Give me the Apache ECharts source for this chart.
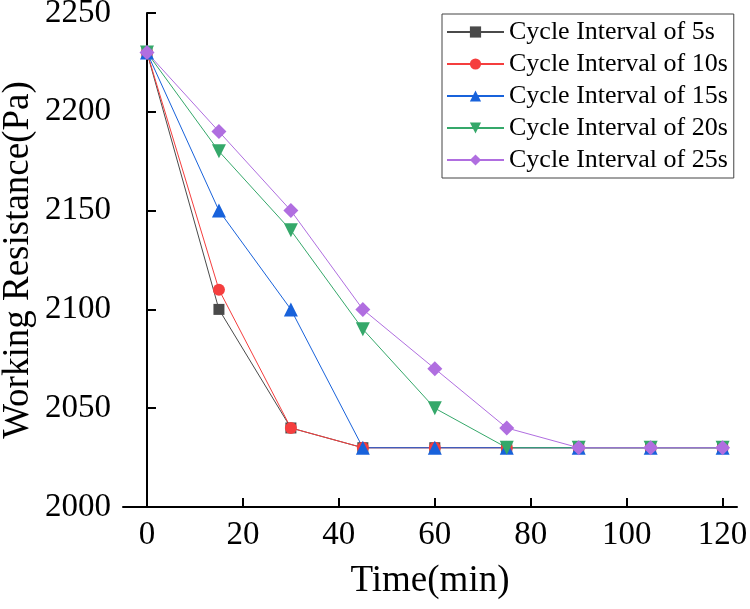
<!DOCTYPE html>
<html>
<head>
<meta charset="utf-8">
<script src="https://cdn.jsdelivr.net/npm/echarts@6/dist/echarts.min.js"></script>
<style>
  html, body { margin: 0; padding: 0; background: #fff; }
  #chart { width: 750px; height: 609px; }
</style>
</head>
<body>
<div id="chart"></div>
<script>
const times = [0, 15, 30, 45, 60, 75, 90, 105, 120]
const interval5 = [2230, 2100, 2040, 2030, 2030, 2030, 2030, 2030, 2030]
const interval10 = [2230, 2110, 2040, 2030, 2030, 2030, 2030, 2030, 2030]
const interval15 = [2230, 2150, 2100, 2030, 2030, 2030, 2030, 2030, 2030]
const interval20 = [2230, 2180, 2140, 2090, 2050, 2030, 2030, 2030, 2030]
const interval25 = [2230, 2190, 2150, 2100, 2070, 2040, 2030, 2030, 2030]
const xTicks = [0, 20, 40, 60, 80, 100, 120]

const font = '"Liberation Serif", "Times New Roman", serif'

const pairs = (ys) => times.map((t, i) => [t, ys[i]])

const makeSeries = (name, data, color, symbol, size) => ({
  name: name,
  type: 'line',
  data: pairs(data),
  symbol: symbol,
  symbolSize: size,
  showAllSymbol: true,
  lineStyle: { color: color, width: 1 },
  itemStyle: { color: color },
  emphasis: { disabled: true }
})

const chart = echarts.init(document.getElementById('chart'))

const option = {
  animation: false,
  backgroundColor: '#fff',
  grid: { left: 123, right: 13, top: 13, bottom: 102, outerBoundsMode: 'none', containLabel: false },
  legend: {
    orient: 'vertical',
    left: 442,
    top: 14,
    padding: [5, 6, 5, 4],
    itemGap: 6,
    itemWidth: 57,
    itemHeight: 14,
    borderColor: '#444',
    borderWidth: 1,
    textStyle: { fontFamily: font, fontSize: 26, lineHeight: 26, color: '#000' },
    data: ['Cycle Interval of 5s', 'Cycle Interval of 10s', 'Cycle Interval of 15s',
      'Cycle Interval of 20s', 'Cycle Interval of 25s']
  },
  xAxis: {
    type: 'value',
    min: -5,
    max: 123,
    name: 'Time(min)',
    nameLocation: 'middle',
    nameGap: 56,
    nameMoveOverlap: false,
    nameTextStyle: { fontFamily: font, fontSize: 37, color: '#000' },
    axisLine: { show: true, onZero: false, lineStyle: { color: '#000', width: 2 } },
    axisTick: { show: true, inside: true, length: 9, lineStyle: { color: '#000', width: 2 },
      customValues: xTicks },
    axisLabel: { fontFamily: font, fontSize: 33, color: '#000', margin: 12,
      customValues: xTicks, formatter: (v) => String(v) },
    splitLine: { show: false }
  },
  yAxis: {
    type: 'value',
    min: 2000,
    max: 2250,
    interval: 50,
    name: 'Working Resistance(Pa)',
    nameLocation: 'middle',
    nameGap: 86,
    nameMoveOverlap: false,
    nameTextStyle: { fontFamily: font, fontSize: 37, color: '#000' },
    axisLine: { show: true, lineStyle: { color: '#000', width: 2 } },
    axisTick: { show: true, inside: true, length: 9, lineStyle: { color: '#000', width: 2 } },
    axisLabel: { fontFamily: font, fontSize: 33, color: '#000', margin: 12, formatter: (v) => String(v) },
    splitLine: { show: false }
  },
  series: [
    makeSeries('Cycle Interval of 5s', interval5, '#4a4a4a', 'rect', 11),
    makeSeries('Cycle Interval of 10s', interval10, '#f53e3e', 'circle', 12),
    makeSeries('Cycle Interval of 15s', interval15, '#1862db', 'triangle', 14),
    makeSeries('Cycle Interval of 20s', interval20, '#35a86a', 'path://M0,0 L10,0 L5,9 Z', 14),
    makeSeries('Cycle Interval of 25s', interval25, '#b06ee0', 'diamond', 15)
  ]
}

chart.setOption(option)
</script>
</body>
</html>
